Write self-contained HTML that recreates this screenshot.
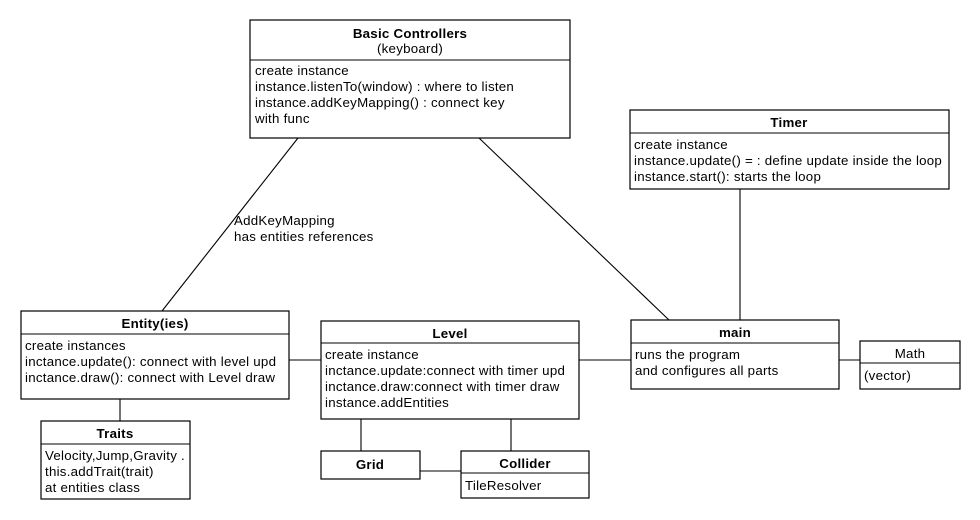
<!DOCTYPE html>
<html><head><meta charset="utf-8"><style>
html,body{margin:0;padding:0;background:#fff;}
svg{display:block;font-family:"Liberation Sans",Arial,sans-serif;font-size:13.3px;letter-spacing:0.25px;}
.b{font-weight:bold;}
rect{fill:#fff;stroke:#000;stroke-width:1.2;}
line{stroke:#000;stroke-width:1.1;}
</style></head><body>
<svg width="980" height="520" viewBox="0 0 980 520" xmlns="http://www.w3.org/2000/svg">
<line x1="298" y1="138" x2="162" y2="311"/>
<line x1="479" y1="138" x2="669" y2="320"/>
<line x1="740" y1="189" x2="740" y2="320"/>
<line x1="289" y1="360" x2="321" y2="360"/>
<line x1="579" y1="360" x2="631" y2="360"/>
<line x1="839" y1="360" x2="860" y2="360"/>
<line x1="120" y1="399" x2="120" y2="421"/>
<line x1="361" y1="419" x2="361" y2="451"/>
<line x1="511" y1="419" x2="511" y2="451"/>
<line x1="420" y1="471" x2="461" y2="471"/>
<text x="234" y="225">AddKeyMapping</text>
<text x="234" y="241">has entities references</text>

<rect x="250" y="20" width="320" height="118"/>
<line x1="250" y1="60" x2="570" y2="60"/>
<text class="b" x="410" y="38" text-anchor="middle">Basic Controllers</text>
<text x="410" y="53" text-anchor="middle">(keyboard)</text>
<text x="255" y="75">create instance</text>
<text x="255" y="91">instance.listenTo(window) : where to listen</text>
<text x="255" y="107">instance.addKeyMapping() : connect key</text>
<text x="255" y="123">with func</text>

<rect x="630" y="110" width="319" height="79"/>
<line x1="630" y1="133" x2="949" y2="133"/>
<text class="b" x="789" y="127" text-anchor="middle">Timer</text>
<text x="634" y="149">create instance</text>
<text x="634" y="165">instance.update() = : define update inside the loop</text>
<text x="634" y="181">instance.start(): starts the loop</text>

<rect x="21" y="311" width="268" height="88"/>
<line x1="21" y1="334" x2="289" y2="334"/>
<text class="b" x="155" y="328" text-anchor="middle">Entity(ies)</text>
<text x="25" y="350">create instances</text>
<text x="25" y="366">inctance.update(): connect with level upd</text>
<text x="25" y="382">inctance.draw(): connect with Level draw</text>

<rect x="41" y="421" width="149" height="78"/>
<line x1="41" y1="444" x2="190" y2="444"/>
<text class="b" x="115" y="438" text-anchor="middle">Traits</text>
<text x="45" y="460">Velocity,Jump,Gravity .</text>
<text x="45" y="476">this.addTrait(trait)</text>
<text x="45" y="492">at entities class</text>

<rect x="321" y="321" width="258" height="98"/>
<line x1="321" y1="343" x2="579" y2="343"/>
<text class="b" x="450" y="338" text-anchor="middle">Level</text>
<text x="325" y="359">create instance</text>
<text x="325" y="375">inctance.update:connect with timer upd</text>
<text x="325" y="391">inctance.draw:connect with timer draw</text>
<text x="325" y="407">instance.addEntities</text>

<rect x="321" y="451" width="99" height="28"/>
<text class="b" x="370" y="469" text-anchor="middle">Grid</text>

<rect x="461" y="451" width="128" height="47"/>
<line x1="461" y1="473" x2="589" y2="473"/>
<text class="b" x="525" y="468" text-anchor="middle">Collider</text>
<text x="465" y="490">TileResolver</text>

<rect x="631" y="320" width="208" height="69"/>
<line x1="631" y1="343" x2="839" y2="343"/>
<text class="b" x="735" y="337" text-anchor="middle">main</text>
<text x="635" y="359">runs the program</text>
<text x="635" y="375">and configures all parts</text>

<rect x="860" y="341" width="100" height="48"/>
<line x1="860" y1="363" x2="960" y2="363"/>
<text x="910" y="358" text-anchor="middle">Math</text>
<text x="864" y="380">(vector)</text>
</svg>
</body></html>
